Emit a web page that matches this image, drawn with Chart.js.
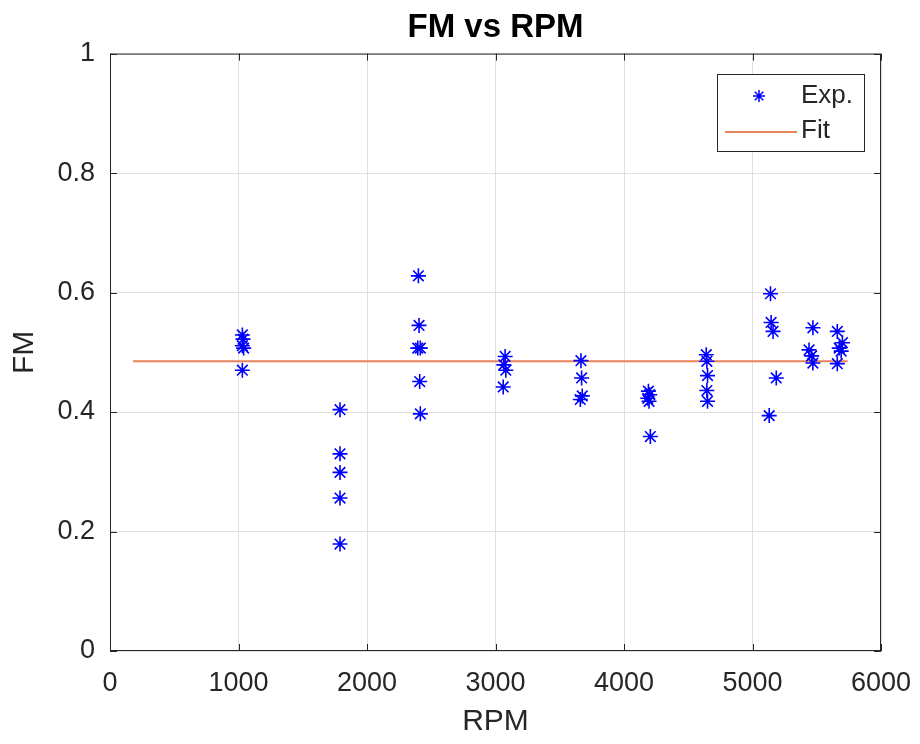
<!DOCTYPE html>
<html>
<head>
<meta charset="utf-8">
<script src="https://cdn.jsdelivr.net/npm/chart.js@4.4.1/dist/chart.umd.min.js"></script>
<style>
  html, body { margin: 0; padding: 0; background: #fff; }
  #wrap { width: 920px; height: 744px; }
</style>
</head>
<body>
<div id="wrap"><canvas id="myChart" width="920" height="744"></canvas></div>
<script>
// measured points
var rpm = [1030, 1035, 1030, 1040, 1030,
           1790, 1790, 1790, 1790, 1790,
           2400, 2405, 2395, 2415, 2410, 2415,
           3075, 3065, 3080, 3060,
           3665, 3670, 3675, 3660,
           4190, 4200, 4185, 4195, 4205,
           4640, 4645, 4650, 4645, 4650,
           5140, 5145, 5160, 5185, 5130,
           5470, 5440, 5460, 5470,
           5660, 5700, 5675, 5690, 5660];
var fm = [0.529, 0.522, 0.511, 0.507, 0.470,
          0.404, 0.330, 0.299, 0.256, 0.179,
          0.628, 0.545, 0.507, 0.507, 0.451, 0.397,
          0.493, 0.479, 0.470, 0.442,
          0.486, 0.457, 0.427, 0.421,
          0.435, 0.429, 0.423, 0.418, 0.359,
          0.496, 0.485, 0.461, 0.436, 0.418,
          0.598, 0.550, 0.535, 0.457, 0.394,
          0.541, 0.504, 0.494, 0.482,
          0.535, 0.516, 0.507, 0.502, 0.481];

// fitted line
var fitRpm = [180, 5740];
var fitFm = [0.485, 0.485];

var xTicks = ['0', '1000', '2000', '3000', '4000', '5000', '6000'];
var yTicks = ['0', '0.2', '0.4', '0.6', '0.8', '1'];

var expPoints = rpm.map(function (r, i) { return { x: r, y: fm[i] }; });
var fitPoints = fitRpm.map(function (r, i) { return { x: r, y: fitFm[i] }; });

var axisCol = '#262626';
var fitCol = '#e8825a';
var fam = '"Liberation Sans", Arial, sans-serif';

function star(ctx, x, y, r) {
    ctx.beginPath();
    ctx.moveTo(x - r, y); ctx.lineTo(x + r, y);
    ctx.moveTo(x, y - r); ctx.lineTo(x, y + r);
    var d = r * 0.7071;
    ctx.moveTo(x - d, y - d); ctx.lineTo(x + d, y + d);
    ctx.moveTo(x - d, y + d); ctx.lineTo(x + d, y - d);
    ctx.stroke();
}

// box, inward ticks and legend, matlab style
var boxPlugin = {
    id: 'box',
    afterLayout: function (chart) {
        // centre the title over the plot box
        if (chart.titleBlock) {
            chart.titleBlock.left = chart.chartArea.left;
            chart.titleBlock.right = chart.chartArea.right;
        }
    },
    afterDraw: function (chart) {
        var ctx = chart.ctx, a = chart.chartArea;
        var xs = chart.scales.x, ys = chart.scales.y;
        ctx.save();
        ctx.strokeStyle = axisCol;
        ctx.lineWidth = 1;
        ctx.strokeRect(a.left + 0.5, a.top + 0.5, a.right - a.left - 1, a.bottom - a.top - 1);
        ctx.beginPath();
        for (var i = 0; i < xTicks.length; i++) {
            var px = Math.round(xs.getPixelForValue(i * 1000)) + 0.5;
            ctx.moveTo(px, a.bottom); ctx.lineTo(px, a.bottom - 7);
            ctx.moveTo(px, a.top); ctx.lineTo(px, a.top + 7);
        }
        for (var j = 0; j < yTicks.length; j++) {
            var py = Math.round(ys.getPixelForValue(j * 0.2)) + 0.5;
            ctx.moveTo(a.left, py); ctx.lineTo(a.left + 7, py);
            ctx.moveTo(a.right, py); ctx.lineTo(a.right - 7, py);
        }
        ctx.stroke();

        // legend
        var lx = 717, ly = 74, lw = 147, lh = 77;
        ctx.fillStyle = '#fff';
        ctx.fillRect(lx, ly, lw, lh);
        ctx.strokeStyle = axisCol;
        ctx.strokeRect(lx + 0.5, ly + 0.5, lw, lh);
        ctx.strokeStyle = '#0000ff';
        ctx.lineWidth = 1.5;
        star(ctx, lx + 42, ly + 22, 6);
        ctx.strokeStyle = fitCol;
        ctx.lineWidth = 2;
        ctx.beginPath();
        ctx.moveTo(lx + 8, ly + 58); ctx.lineTo(lx + 80, ly + 58);
        ctx.stroke();
        ctx.fillStyle = axisCol;
        ctx.font = '26px ' + fam;
        ctx.textBaseline = 'middle';
        ctx.fillText('Exp.', lx + 84, ly + 22);
        ctx.fillText('Fit', lx + 84, ly + 57);
        ctx.restore();
    }
};

var ctx = document.getElementById('myChart').getContext('2d');
var chart = new Chart(ctx, {
    type: 'scatter',
    data: {
        datasets: [{
            label: 'Exp.',
            data: expPoints,
            pointStyle: 'star',
            radius: 7.5,
            borderColor: '#0000ff',
            backgroundColor: '#0000ff',
            borderWidth: 1.6,
            showLine: false
        }, {
            label: 'Fit',
            data: fitPoints,
            showLine: true,
            borderColor: fitCol,
            borderWidth: 2,
            pointRadius: 0
        }]
    },
    options: {
        responsive: false,
        animation: false,
        layout: { padding: { left: 0, right: 39, top: 0, bottom: 0 } },
        plugins: {
            legend: { display: false },
            tooltip: { enabled: false },
            title: {
                display: true,
                text: 'FM vs RPM',
                color: '#000',
                font: { family: fam, size: 33, weight: 'bold' },
                padding: { top: 8, bottom: 6 }
            }
        },
        scales: {
            x: {
                type: 'linear',
                min: 0, max: 6000,
                afterFit: function (s) { s.height = 93; s.paddingLeft = 0; s.paddingRight = 0; },
                afterBuildTicks: function (s) {
                    s.ticks = xTicks.map(function (t) { return { value: Number(t) }; });
                },
                ticks: {
                    color: axisCol,
                    padding: 16,
                    maxRotation: 0,
                    font: { family: fam, size: 27 },
                    callback: function (v, i) { return xTicks[i]; }
                },
                grid: { color: '#dfdfdf', tickLength: 0 },
                border: { display: false },
                title: {
                    display: true, text: 'RPM', color: axisCol,
                    font: { family: fam, size: 30 },
                    padding: { top: 0, bottom: 4 }
                }
            },
            y: {
                min: 0, max: 1,
                afterFit: function (s) { s.width = 110; },
                afterBuildTicks: function (s) {
                    s.ticks = yTicks.map(function (t) { return { value: Number(t) }; });
                },
                ticks: {
                    color: axisCol,
                    padding: 15,
                    font: { family: fam, size: 27 },
                    callback: function (v, i) { return yTicks[i]; }
                },
                grid: { color: '#dfdfdf', tickLength: 0 },
                border: { display: false },
                title: {
                    display: true, text: 'FM', color: axisCol,
                    font: { family: fam, size: 30 },
                    padding: { top: 7, bottom: 0 }
                }
            }
        }
    },
    plugins: [boxPlugin]
});
</script>
</body>
</html>
